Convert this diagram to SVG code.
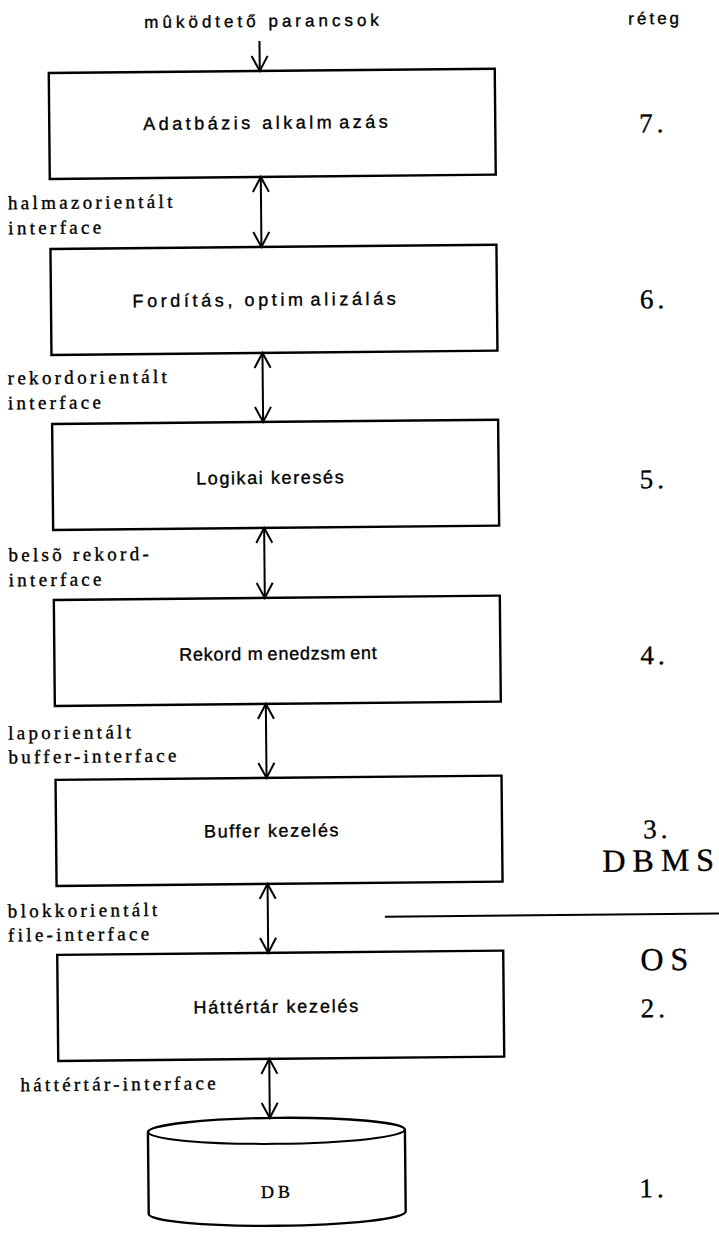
<svg xmlns="http://www.w3.org/2000/svg" width="719" height="1234" viewBox="0 0 719 1234">
  <style>
    .box { fill: #fff; stroke: #000; stroke-width: 2.4; }
    .link { fill: none; stroke: #000; stroke-width: 2; }
    .sep { fill: none; stroke: #000; stroke-width: 2; }
    text { fill: #000; stroke: #000; stroke-width: 0.35; }
    .lbl { font-family: "Liberation Sans", Arial, sans-serif; font-size: 18px; text-anchor: middle; }
    .top { font-family: "Liberation Sans", Arial, sans-serif; font-size: 17px; }
    .ifc { font-family: "Liberation Serif", "Times New Roman", serif; font-size: 19px; letter-spacing: 3.3px; }
    .num { font-family: "Liberation Serif", "Times New Roman", serif; font-size: 27px; letter-spacing: 4px; }
    .sys { font-family: "Liberation Serif", "Times New Roman", serif; font-size: 32px; }
    .db { font-family: "Liberation Serif", "Times New Roman", serif; font-size: 18px; letter-spacing: 4px; text-anchor: middle; }
  </style>
  <defs>
    <marker id="head" markerUnits="userSpaceOnUse" markerWidth="20" markerHeight="20" viewBox="-17 -10 20 20" refX="0" refY="0" orient="auto-start-reverse">
      <path d="M -15 -8 L 0 0 L -15 8" fill="none" stroke="#000" stroke-width="2"/>
    </marker>
  </defs>

  <g transform="rotate(-0.55 360 617)">
    <!-- header -->
    <text class="top" x="150" y="26" letter-spacing="4">mûködtető parancsok</text>
    <text class="top" x="634" y="27" letter-spacing="3">réteg</text>

    <!-- layer boxes -->
    <g id="layer7">
      <rect class="box" x="54" y="70" width="446" height="106"/>
      <text class="lbl" x="272" y="128" letter-spacing="3.5">Adatbázis alkalm<tspan dx="4">azás</tspan></text>
    </g>
    <g id="layer6">
      <rect class="box" x="54" y="246" width="446" height="106"/>
      <text class="lbl" x="269" y="305" letter-spacing="3.6">Fordítás, optim<tspan dx="4">alizálás</tspan></text>
    </g>
    <g id="layer5">
      <rect class="box" x="54" y="421" width="446" height="106"/>
      <text class="lbl" x="272" y="483" letter-spacing="1.6">Logikai keresés</text>
    </g>
    <g id="layer4">
      <rect class="box" x="54" y="597" width="446" height="106"/>
      <text class="lbl" x="278" y="659" letter-spacing="0.8">Rekord m<tspan dx="4">enedzsm</tspan><tspan dx="4">ent</tspan></text>
    </g>
    <g id="layer3">
      <rect class="box" x="54" y="777" width="446" height="106"/>
      <text class="lbl" x="270" y="836" letter-spacing="1.6">Buffer kezelés</text>
    </g>
    <g id="layer2">
      <rect class="box" x="54" y="952" width="446" height="106"/>
      <text class="lbl" x="273" y="1012" letter-spacing="1.8">Háttértár kezelés</text>
    </g>
    <g id="layer1">
      <path class="box" d="M 143 1130 A 128.5 13 0 0 1 400 1130 L 400 1212 A 128.5 13 0 0 1 143 1212 Z"/>
      <path class="link" d="M 143 1130 A 128.5 13 0 0 0 400 1130"/>
      <text class="db" x="272" y="1197">DB</text>
    </g>

    <!-- interfaces between layers -->
    <g id="connectors">
      <line class="link" x1="265" y1="40" x2="265" y2="70" marker-end="url(#head)"/>
      <line class="link" x1="265" y1="176" x2="265" y2="246" marker-start="url(#head)" marker-end="url(#head)"/>
      <line class="link" x1="265" y1="352" x2="265" y2="421" marker-start="url(#head)" marker-end="url(#head)"/>
      <line class="link" x1="265" y1="527" x2="265" y2="597" marker-start="url(#head)" marker-end="url(#head)"/>
      <line class="link" x1="265" y1="703" x2="265" y2="777" marker-start="url(#head)" marker-end="url(#head)"/>
      <line class="link" x1="265" y1="883" x2="265" y2="952" marker-start="url(#head)" marker-end="url(#head)"/>
      <line class="link" x1="265" y1="1058" x2="265" y2="1117" marker-start="url(#head)" marker-end="url(#head)"/>
    </g>

    <!-- interface names -->
    <text class="ifc" x="12" y="206">halmazorientált</text>
    <text class="ifc" x="12" y="231">interface</text>
    <text class="ifc" x="10" y="381">rekordorientált</text>
    <text class="ifc" x="10" y="406">interface</text>
    <text class="ifc" x="9" y="558" letter-spacing="3">belsõ rekord-</text>
    <text class="ifc" x="9" y="583">interface</text>
    <text class="ifc" x="7" y="736" letter-spacing="4.5">laporientált</text>
    <text class="ifc" x="7" y="760" letter-spacing="4.5">buffer-interface</text>
    <text class="ifc" x="5" y="914" letter-spacing="4.4">blokkorientált</text>
    <text class="ifc" x="5" y="938" letter-spacing="4.7">file-interface</text>
    <text class="ifc" x="16" y="1088" letter-spacing="3.7">háttértár-interface</text>

    <!-- layer numbers -->
    <text class="num" x="644" y="135">7.</text>
    <text class="num" x="643" y="311">6.</text>
    <text class="num" x="641" y="491">5.</text>
    <text class="num" x="640" y="667">4.</text>
    <text class="num" x="641" y="841">3.</text>
    <text class="num" x="637" y="1020">2.</text>
    <text class="num" x="634" y="1200">1.</text>

    <!-- DBMS / OS boundary -->
    <text class="sys" x="600" y="874">D<tspan dx="7">B</tspan><tspan dx="7">M</tspan><tspan dx="7">S</tspan></text>
    <line class="sep" x1="382" y1="917" x2="730" y2="917"/>
    <text class="sys" x="637" y="973">O<tspan dx="7">S</tspan></text>
  </g>
</svg>
